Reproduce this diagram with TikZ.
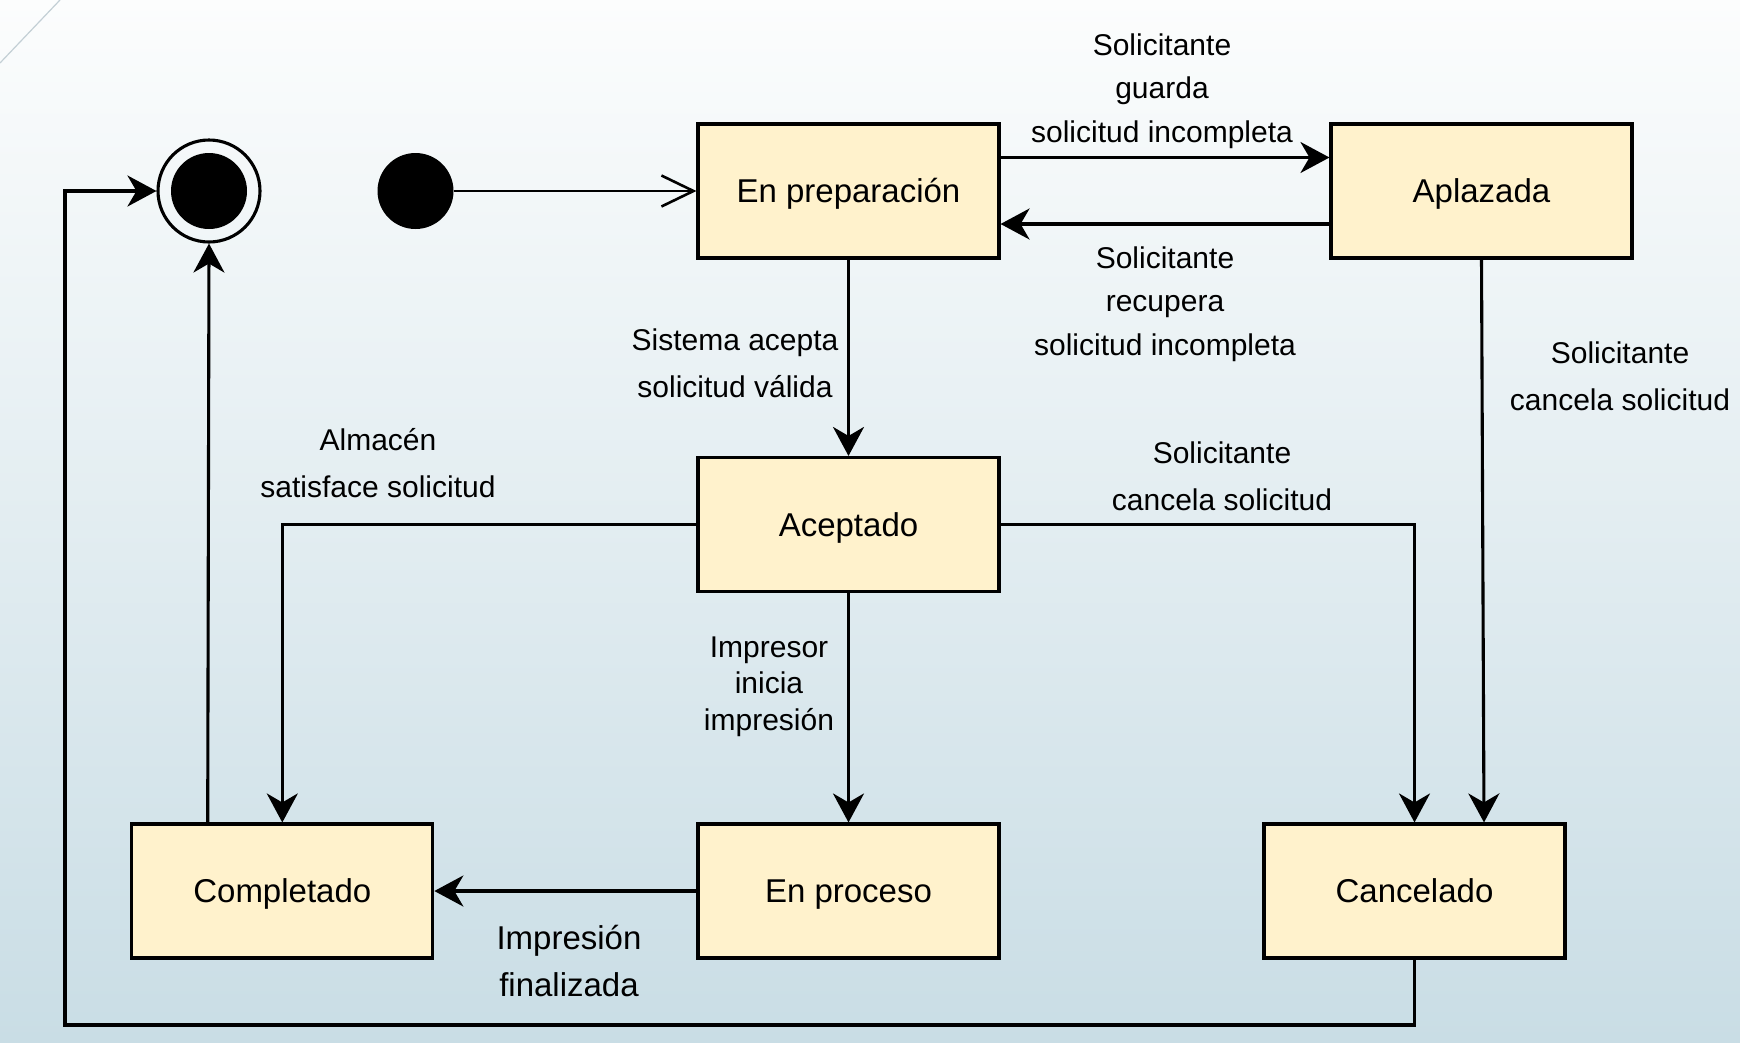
\documentclass[tikz,border=0pt]{standalone}
\usepackage{fontspec}
\setmainfont{Liberation Sans}
\usetikzlibrary{arrows.meta}
\definecolor{boxfill}{HTML}{FFF2CC}
\definecolor{bgtop}{HTML}{FCFDFD}
\definecolor{bgbot}{HTML}{C9DDE5}
\definecolor{diag}{HTML}{C3CFD5}
\begin{document}
\begin{tikzpicture}[x=1pt,y=-1pt,
  state/.style={draw, line width=3.1pt, fill=boxfill, minimum width=301pt, minimum height=134pt, inner sep=0pt, text height=23.6pt, text depth=0pt, font=\fontsize{33}{40}\selectfont},
  lbl/.style={align=center, anchor=base, inner sep=0pt, font=\fontsize{30}{47}\selectfont},
  arr/.style={line width=3.1pt, -{Stealth[length=29pt,width=31pt,inset=9pt]}},
]
\useasboundingbox (0,0) rectangle (1740,1042);
\shade[top color=bgtop,bottom color=bgbot] (0,0) rectangle (1740,1042);
\draw[diag, line width=1.2pt] (0,63) -- (60,0);

% states
\node[state] (ep)   at (848.5,191)   {En preparación};
\node[state] (apl)  at (1481.5,191)  {Aplazada};
\node[state] (acc)  at (848.5,524.5) {Aceptado};
\node[state] (comp) at (282.3,891)   {Completado};
\node[state] (proc) at (848.5,891)   {En proceso};
\node[state] (canc) at (1414.5,891)  {Cancelado};

% pseudo states
\node[circle, fill=black, minimum size=76pt, inner sep=0pt] (init) at (415.5,191) {};
\node[circle, draw, line width=3.1pt, minimum size=102pt, inner sep=0pt] (fin) at (209,191) {};
\node[circle, fill=black, minimum size=76pt, inner sep=0pt] (fincore) at (fin.center) {};
\coordinate (lc) at (65,1025);

% transitions
\draw[line width=2.6pt, -{Straight Barb[length=32pt,width=31pt]}] (init) -- (ep.west);
\draw[arr] ([yshift=33.5pt]ep.east) -- ([yshift=33.5pt]apl.west);
\draw[arr] ([yshift=-33pt]apl.west) -- ([yshift=-33pt]ep.east);
\draw[arr] (ep.south) -- (acc.north);
\draw[arr] (acc.south) -- (proc.north);
\draw[arr] (proc.west) -- (comp.east);
\draw[arr] (acc.west) -| (comp.north);
\draw[arr] (acc.east) -| (canc.north);
\draw[arr] (apl.south) -- ([xshift=69.5pt]canc.north);
\draw[arr] ([xshift=-74.6pt]comp.north) -- (fin.south);
\draw[arr] (canc.south) |- (lc) |- (fin.west);

% labels (anchor = baseline of the last line)
\node[lbl, font=\fontsize{30}{43.5}\selectfont] (l1) at (1162,142) {Solicitante\\guarda\\solicitud incompleta};
\node[lbl, font=\fontsize{30}{43.5}\selectfont] (l2) at (1165,355) {Solicitante\\recupera\\solicitud incompleta};
\node[lbl] (l3) at (735,397) {Sistema acepta\\solicitud válida};
\node[lbl] (l4) at (1620,410) {Solicitante\\cancela solicitud};
\node[lbl] (l5) at (1222,510) {Solicitante\\cancela solicitud};
\node[lbl] (l6) at (378,497) {Almacén\\satisface solicitud};
\node[lbl, font=\fontsize{30}{36.3}\selectfont] (l7) at (769,730) {Impresor\\inicia\\impresión};
\node[lbl, font=\fontsize{33}{46.5}\selectfont] (l8) at (569,996) {Impresión\\finalizada};
\end{tikzpicture}
\end{document}
